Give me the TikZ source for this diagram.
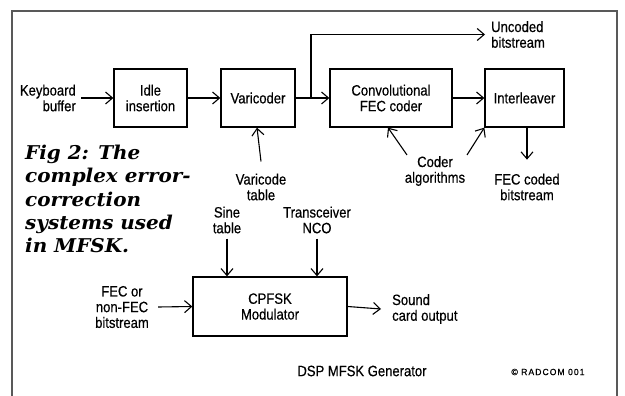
\documentclass[tikz,border=0pt]{standalone}
\usepackage{fontspec}
\setmainfont{Liberation Sans}[FakeStretch=0.87,FakeBold=0.5]
\newfontfamily\capfont{DejaVu Serif}[FakeStretch=1.05]
\newfontfamily\tagfont{Liberation Sans}[FakeStretch=0.95,FakeBold=0.8,LetterSpace=12]
\usetikzlibrary{arrows.meta,calc}
\begin{document}
\begin{tikzpicture}[x=1pt,y=-1pt,
  every node/.style={font=\fontsize{15}{15.7}\selectfont, align=center, inner sep=0pt},
  block/.style={draw, line width=1.3pt, minimum height=58pt},
  arr/.style={line width=1.1pt, -{Straight Barb[length=7pt,width=12pt,line width=1.1pt]}},
  wire/.style={line width=1.1pt},
  frameline/.style={draw=black!65, line width=1.4pt}]
\useasboundingbox (0,0) rectangle (625,396);

% outer frame, open at the bottom
\draw[frameline] (12,396) -- (12,11) -- (617,11) -- (617,396);

% processing blocks
\node[block, minimum width=73pt] (idle) at (150.5,98) {Idle\\insertion};
\node[block, minimum width=74pt] (vari) at (258,98) {Varicoder};
\node[block, minimum width=122pt] (conv) at (391,98) {Convolutional\\FEC coder};
\node[block, minimum width=79pt] (inter) at (524.5,98) {Interleaver};
\node[block, minimum width=154pt, minimum height=59pt] (cpfsk) at (270,306.5) {CPFSK\\Modulator};

% labels
\node[align=right, anchor=east] (kb) at (76,98) {Keyboard\\buffer};
\node (vtab) at (261,187) {Varicode\\table};
\node[align=left, anchor=west] (unc) at (491,34.5) {Uncoded\\bitstream};
\node (coder) at (435,171) {Coder\\algorithms};
\node (fecout) at (527,187) {FEC coded\\bitstream};
\node (sine) at (227,220) {Sine\\table};
\node (nco) at (317,220) {Transceiver\\NCO};
\node (fecin) at (122,307) {FEC or\\non-FEC\\bitstream};
\node[align=left, anchor=west] (sound) at (392,309) {Sound\\card output};
\node (dsp) at (362,371) {DSP MFSK Generator};
\node[font=\tagfont\fontsize{9}{11}\selectfont] (copy) at (548,372) {© RADCOM 001};

% caption
\node[anchor=north west, align=left, font=\capfont\fontsize{19}{23.2}\selectfont\bfseries\itshape] (cap) at (25,145)
  {Fig 2: The\\complex error-\\correction\\systems used\\in MFSK.};

% upper signal chain
\coordinate (branch) at (311,98);
\draw[arr] ([xshift=5pt]kb.east) -- (idle.west);
\draw[arr] (idle.east) -- (vari.west);
\draw[wire] (vari.east) -- (branch);
\draw[arr] (branch) -- (conv.west);
\draw[arr] (branch) |- ([xshift=-6pt]unc.west);
\draw[arr] (conv.east) -- (inter.west);
\draw[arr] ([yshift=12pt]vtab.north) -- ([xshift=-1pt]vari.south);
\draw[arr] ($(coder.north)+(-28,-1)$) -- ([xshift=-3pt]conv.south);
\draw[arr] ($(coder.north)+(32,-1)$) -- (inter.south west);
\draw[arr] ([xshift=2.5pt]inter.south) -- ++(0,32);

% modulator inputs and output
\draw[arr] ([yshift=-5pt]sine.south) -- (sine.south |- cpfsk.north);
\draw[arr] ([yshift=-5pt]nco.south) -- (nco.south |- cpfsk.north);
\draw[arr] ([xshift=9pt]fecin.east) -- (cpfsk.west);
\draw[arr] (cpfsk.east) -- ([xshift=-11pt]sound.west);
\end{tikzpicture}
\end{document}
